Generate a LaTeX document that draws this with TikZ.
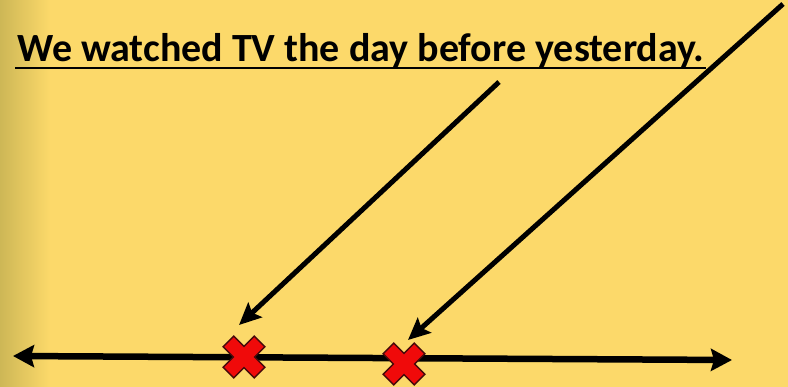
\documentclass[tikz,border=0pt]{standalone}
\usepackage{fontspec}
\setmainfont{Carlito}
\usetikzlibrary{arrows.meta}
\definecolor{bgy}{RGB}{252,217,106}
\definecolor{bgdark}{RGB}{205,183,86}
\definecolor{xred}{RGB}{240,10,10}
\definecolor{xedge}{RGB}{70,10,10}
\tikzset{
  pointer/.style={line width=5pt, -{Stealth[length=22pt,width=20pt,inset=4pt]}},
  timeline/.style={line width=6.5pt, {Stealth[length=21pt,width=22pt,inset=3pt]}-{Stealth[length=21pt,width=22pt,inset=3pt]}},
  xmark/.pic={
    \fill[xred, draw=xedge, line width=1.3pt, rotate=45]
      (-7.5,-22) -- (7.5,-22) -- (7.5,-7.5) -- (22,-7.5) -- (22,7.5) -- (7.5,7.5)
      -- (7.5,22) -- (-7.5,22) -- (-7.5,7.5) -- (-22,7.5) -- (-22,-7.5) -- (-7.5,-7.5) -- cycle;
  }
}
\begin{document}
\begin{tikzpicture}[x=1pt,y=-1pt]
\useasboundingbox (0,0) rectangle (788,387);
\fill[bgy] (0,0) rectangle (788,387);
\shade[left color=bgdark, right color=bgy] (0,0) rectangle (50,387);
% title
\node[anchor=base west, inner sep=0pt, font=\bfseries\fontsize{40}{44}\selectfont] (title) at (17,62) {We watched TV the day before yesterday.};
\draw[line width=2.2pt] ([xshift=-2pt,yshift=-6pt]title.base west) -- ([xshift=1pt,yshift=-6pt]title.base east);
% timeline
\coordinate (tl) at (13,356);
\coordinate (tr) at (732,360);
\draw[timeline] (tl) -- (tr);
% crosses
\coordinate (x1) at (244,357);
\coordinate (x2) at (404,364);
\pic at (x1) {xmark};
\pic at (x2) {xmark};
% pointers
\coordinate (p1s) at (499,82);
\coordinate (p1e) at (239,325);
\coordinate (p2s) at (783,4);
\coordinate (p2e) at (408,340);
\draw[pointer] (p1s) -- (p1e);
\draw[pointer] (p2s) -- (p2e);
\end{tikzpicture}
\end{document}
